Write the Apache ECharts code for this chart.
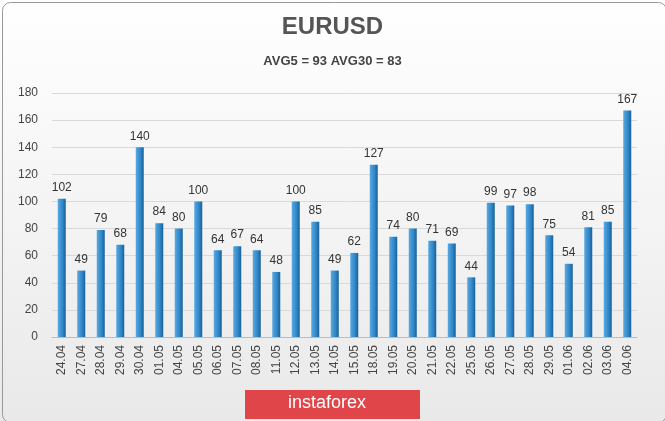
<!DOCTYPE html><html><head><meta charset="utf-8">
<script src="https://cdn.jsdelivr.net/npm/echarts@6/dist/echarts.min.js"></script>
<style>html,body{margin:0;padding:0;}#c{width:665px;height:421px;}</style></head><body><div id="c"></div>
<script>
const categories=["24.04","27.04","28.04","29.04","30.04","01.05","04.05","05.05","06.05","07.05","08.05","11.05","12.05","13.05","14.05","15.05","18.05","19.05","20.05","21.05","22.05","25.05","26.05","27.05","28.05","29.05","01.06","02.06","03.06","04.06"];
const values=[102,49,79,68,140,84,80,100,64,67,64,48,100,85,49,62,127,74,80,71,69,44,99,97,98,75,54,81,85,167];
const title="EURUSD";
const subtitle="AVG5 = 93 AVG30 = 83";
const chart=echarts.init(document.getElementById('c'));
chart.setOption({
 backgroundColor:new echarts.graphic.LinearGradient(0,0,0,1,[{offset:0,color:'#ffffff'},{offset:1,color:'#e9e9e9'}]),
 title:[{text:title,left:'center',top:10,textStyle:{fontFamily:'Liberation Sans',fontSize:24,fontWeight:'bold',color:'#555'}},
        {text:subtitle,left:'center',top:50,textStyle:{fontFamily:'Liberation Sans',fontSize:13,fontWeight:'bold',color:'#444'}}],
 grid:{left:52,right:28,top:93,bottom:84},
 xAxis:{type:'category',data:categories,axisTick:{show:false},axisLine:{lineStyle:{color:'#bbb'}},
   axisLabel:{rotate:90,fontFamily:'Liberation Sans',fontSize:12,color:'#444',margin:8}},
 yAxis:{type:'value',min:0,max:180,interval:20,axisLabel:{fontFamily:'Liberation Sans',fontSize:12,color:'#444',margin:14},
   splitLine:{lineStyle:{color:'#d9d9d9'}}},
 series:[{type:'bar',data:values,barWidth:8,
   itemStyle:{color:new echarts.graphic.LinearGradient(0,0,1,0,[{offset:0,color:'#5aa9e0'},{offset:0.6,color:'#2f86c8'},{offset:1,color:'#1b5f96'}])},
   label:{show:true,position:'top',fontFamily:'Liberation Sans',fontSize:12,color:'#333'}}],
 graphic:[{type:'rect',left:245,top:390,shape:{width:175,height:29},style:{fill:'#e0454a'}},
   {type:'text',left:288,top:394,style:{text:'instaforex',fill:'#fff',font:'18px "Liberation Sans"'}},
   {type:'rect',left:0,top:0,shape:{width:664,height:420,r:8},style:{fill:'none',stroke:'#999',lineWidth:1}}]
});
</script></body></html>
